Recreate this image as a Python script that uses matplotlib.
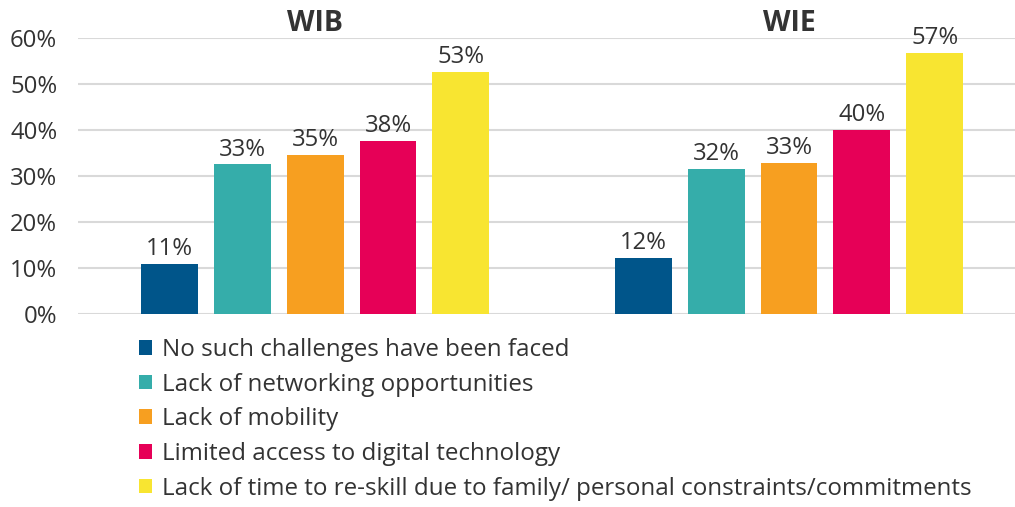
import matplotlib
matplotlib.use("Agg")
import matplotlib.pyplot as plt
import numpy as np

plt.rcParams['font.family'] = ['Open Sans', 'DejaVu Sans']

# Data
groups = ["WIB", "WIE"]
categories = [
    "No such challenges have been faced",
    "Lack of networking opportunities",
    "Lack of mobility",
    "Limited access to digital technology",
    "Lack of time to re-skill due to family/ personal constraints/commitments",
]
wib_values = [10.8, 32.5, 34.6, 37.7, 52.7]
wie_values = [12.2, 31.5, 32.9, 40.1, 56.8]
wib_labels = ["11%", "33%", "35%", "38%", "53%"]
wie_labels = ["12%", "32%", "33%", "40%", "57%"]
colors = ["#00558A", "#35ADAA", "#F79F20", "#E60057", "#F8E531"]
yticks = [0, 10, 20, 30, 40, 50, 60]

text_color = "#333333"
grid_color = "#D9D9D9"

fig = plt.figure(figsize=(10.15, 5.07), dpi=100)
ax = fig.add_axes([0.077, 0.381, 0.923, 0.544])

group_centers = [0, 6.5]
series = [wib_values, wie_values]
labels = [wib_labels, wie_labels]

for g, center in enumerate(group_centers):
    for i in range(len(categories)):
        x = center + (i - 2)
        v = series[g][i]
        ax.bar(x, v, width=0.78, color=colors[i], zorder=3,
               label=categories[i] if g == 0 else None)
        ax.text(x, v + 0.6, labels[g][i], ha="center", va="bottom",
                fontsize=17.2, color=text_color)
    ax.text(center, 63.2, groups[g], ha="center", va="center",
            fontsize=20.5, fontweight="bold", color=text_color, clip_on=False)

ax.set_xlim(-3.25, 9.6)
ax.set_ylim(0, 60)
ax.set_yticks(yticks)
ax.set_yticklabels([f"{t}%" for t in yticks])
ax.set_xticks([])
ax.tick_params(axis="y", length=0, pad=15, labelsize=17.2, labelcolor=text_color)
ax.grid(axis="y", color=grid_color, linewidth=1.5, zorder=0)
for s in ax.spines.values():
    s.set_visible(False)

fig.legend(loc="upper left", bbox_to_anchor=(0.137, 1 - 338 / 507),
           frameon=False, fontsize=17.4, handlelength=0.55, handleheight=0.55,
           handletextpad=0.42, labelspacing=0.44, borderpad=0, borderaxespad=0,
           labelcolor=text_color)

fig.savefig("out.png", dpi=100)
